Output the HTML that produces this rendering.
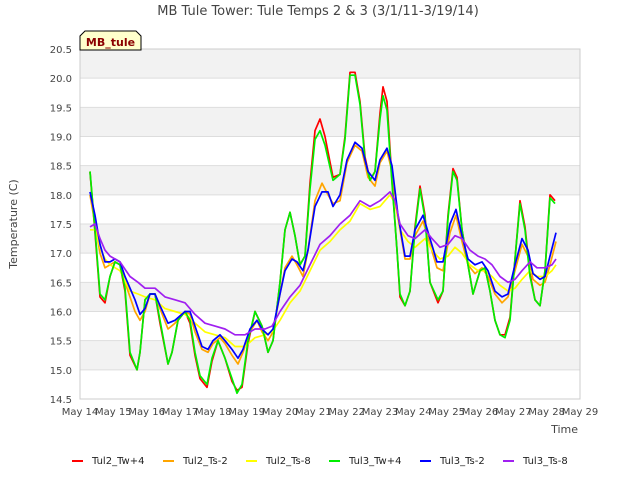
<!DOCTYPE html>
<html><head><meta charset="utf-8"><style>
body{margin:0;background:#fff;font-family:"DejaVu Sans","Liberation Sans",sans-serif}
svg text{font-family:"DejaVu Sans","Liberation Sans",sans-serif}
</style></head><body>
<svg id="chart" width="640" height="480" xmlns="http://www.w3.org/2000/svg">
<text x="318" y="15" text-anchor="middle" font-size="13" fill="#444">MB Tule Tower: Tule Temps 2 &amp; 3 (3/1/11-3/19/14)</text>
<g id="bands"></g><g id="grid"></g>
<rect x="80" y="49" width="500" height="350" fill="none" stroke="#ccc"/>
<g id="series"></g><g id="ticks"></g>
<text transform="translate(17,224) rotate(-90)" text-anchor="middle" font-size="11" fill="#444">Temperature (C)</text>
<text x="578" y="433" text-anchor="end" font-size="11" fill="#444">Time</text>
<g>
<path d="M80,50 L80,36 L85,31 L136,31 L141,36 L141,50 Z" fill="#ffffcc" stroke="#000" stroke-width="1"/>
<text x="110.5" y="46" text-anchor="middle" font-size="11" font-weight="bold" fill="#8b0000">MB_tule</text></g>
<g id="legend"></g>
</svg>
<script>
const yTicks=[14.5,15.0,15.5,16.0,16.5,17.0,17.5,18.0,18.5,19.0,19.5,20.0,20.5];
const xTickDays=[14,15,16,17,18,19,20,21,22,23,24,25,26,27,28,29];
const xTickLabels=xTickDays.map(d=>"May "+d);
const seriesNames=["Tul2_Tw+4","Tul2_Ts-2","Tul2_Ts-8","Tul3_Tw+4","Tul3_Ts-2","Tul3_Ts-8"];
const seriesColors=["#ff0000","#ffa500","#ffff00","#00ee00","#0000ff","#a020f0"];
const tW=[14.30,14.45,14.60,14.75,14.90,15.05,15.20,15.35,15.50,15.71,15.80,15.95,16.10,16.25,16.40,16.64,16.76,16.94,17.15,17.30,17.45,17.60,17.81,17.96,18.14,18.35,18.56,18.71,18.86,19.04,19.25,19.46,19.64,19.79,20.00,20.15,20.30,20.45,20.60,20.75,20.90,21.05,21.20,21.35,21.59,21.80,21.95,22.10,22.25,22.40,22.55,22.70,22.85,23.00,23.09,23.21,23.36,23.51,23.60,23.75,23.90,24.05,24.20,24.35,24.50,24.74,24.89,25.04,25.19,25.31,25.46,25.64,25.79,26.00,26.15,26.30,26.45,26.60,26.75,26.90,27.05,27.20,27.35,27.50,27.65,27.80,27.95,28.10,28.25];
const vGreen=[18.4,17.4,16.3,16.2,16.6,16.85,16.8,16.4,15.3,15.0,15.3,16.2,16.3,16.3,15.85,15.1,15.3,15.85,16.0,15.85,15.3,14.9,14.75,15.2,15.5,15.2,14.85,14.6,14.75,15.5,16.0,15.75,15.3,15.5,16.5,17.4,17.7,17.3,16.8,16.95,18.1,18.95,19.1,18.85,18.25,18.35,18.95,20.05,20.05,19.55,18.6,18.25,18.4,19.3,19.7,19.45,18.2,17.05,16.3,16.1,16.35,17.4,18.1,17.6,16.5,16.2,16.35,17.6,18.4,18.25,17.4,16.8,16.3,16.7,16.75,16.35,15.85,15.6,15.55,15.85,16.9,17.85,17.4,16.6,16.2,16.1,16.7,17.95,17.85];
const vRed=[18.4,17.35,16.25,16.15,16.6,16.85,16.8,16.35,15.25,15.0,15.3,16.2,16.3,16.3,15.8,15.1,15.3,15.85,16.0,15.8,15.25,14.85,14.7,15.15,15.5,15.2,14.8,14.65,14.7,15.45,16.0,15.75,15.3,15.5,16.5,17.4,17.7,17.3,16.8,16.95,18.2,19.1,19.3,19.0,18.3,18.35,19.0,20.1,20.1,19.6,18.65,18.25,18.4,19.4,19.85,19.6,18.25,17.05,16.25,16.1,16.35,17.45,18.15,17.65,16.5,16.15,16.35,17.65,18.45,18.3,17.4,16.8,16.3,16.7,16.75,16.35,15.85,15.6,15.6,15.9,16.9,17.9,17.45,16.65,16.2,16.1,16.7,18.0,17.9];
const tB=[14.30,14.45,14.60,14.75,14.90,15.05,15.20,15.35,15.65,15.80,15.95,16.10,16.25,16.40,16.64,16.85,17.15,17.30,17.45,17.66,17.84,17.99,18.20,18.35,18.56,18.74,18.89,19.10,19.31,19.46,19.64,19.79,20.00,20.15,20.36,20.51,20.69,20.84,21.05,21.26,21.44,21.59,21.80,22.01,22.25,22.46,22.64,22.85,23.00,23.21,23.36,23.54,23.75,23.90,24.05,24.29,24.50,24.71,24.89,25.10,25.28,25.46,25.64,25.85,26.06,26.24,26.45,26.66,26.84,27.05,27.26,27.44,27.59,27.80,27.95,28.10,28.28];
const vBlue=[18.05,17.65,17.15,16.85,16.85,16.9,16.85,16.6,16.2,15.95,16.05,16.3,16.3,16.1,15.8,15.85,16.0,16.0,15.75,15.4,15.35,15.5,15.6,15.5,15.35,15.2,15.35,15.7,15.85,15.7,15.6,15.7,16.3,16.7,16.9,16.85,16.7,17.05,17.8,18.05,18.05,17.8,18.0,18.6,18.9,18.8,18.4,18.25,18.6,18.8,18.5,17.65,16.95,16.95,17.4,17.65,17.25,16.85,16.85,17.5,17.75,17.3,16.9,16.8,16.85,16.7,16.35,16.25,16.3,16.8,17.25,17.05,16.65,16.55,16.6,16.95,17.35];
const vOrange=[18.0,17.5,17.0,16.75,16.8,16.85,16.8,16.5,16.0,15.85,16.0,16.3,16.3,16.05,15.7,15.8,16.0,15.95,15.65,15.35,15.3,15.45,15.55,15.45,15.25,15.1,15.3,15.65,15.85,15.65,15.5,15.65,16.3,16.75,16.95,16.8,16.6,17.05,17.9,18.2,18.0,17.85,17.9,18.55,18.85,18.75,18.3,18.15,18.55,18.75,18.4,17.6,16.9,16.9,17.3,17.55,17.15,16.75,16.7,17.35,17.65,17.2,16.8,16.65,16.75,16.6,16.3,16.15,16.25,16.7,17.15,16.95,16.55,16.45,16.5,16.8,17.2];
const tP=[14.30,14.45,14.60,14.75,14.90,15.20,15.50,15.74,15.95,16.25,16.55,16.85,17.15,17.45,17.75,18.05,18.35,18.65,18.95,19.25,19.55,19.76,20.00,20.30,20.60,20.90,21.20,21.50,21.80,22.10,22.40,22.70,23.00,23.30,23.45,23.60,23.84,24.05,24.35,24.56,24.80,25.04,25.25,25.46,25.70,25.94,26.15,26.36,26.60,26.84,27.05,27.26,27.50,27.71,27.95,28.16,28.28];
const vPurple=[17.45,17.5,17.25,17.05,16.95,16.85,16.6,16.5,16.4,16.4,16.25,16.2,16.15,15.95,15.8,15.75,15.7,15.6,15.6,15.7,15.7,15.75,16.0,16.25,16.45,16.8,17.15,17.3,17.5,17.65,17.9,17.8,17.9,18.05,17.9,17.5,17.3,17.25,17.4,17.25,17.1,17.15,17.3,17.25,17.05,16.95,16.9,16.8,16.6,16.5,16.55,16.7,16.85,16.75,16.75,16.8,16.9];
const vYellow=[17.4,17.4,17.1,16.9,16.8,16.7,16.35,16.3,16.25,16.2,16.05,16.0,15.95,15.8,15.65,15.6,15.55,15.4,15.4,15.55,15.6,15.65,15.85,16.15,16.35,16.7,17.05,17.2,17.4,17.55,17.85,17.75,17.8,18.0,17.85,17.4,17.2,17.1,17.25,17.05,16.9,16.95,17.1,17.0,16.8,16.7,16.7,16.6,16.45,16.35,16.4,16.55,16.7,16.6,16.6,16.7,16.8];
const NS="http://www.w3.org/2000/svg";
const X0=80,X1=580,Y0=399,Y1=49,DMIN=14,DMAX=29,VMIN=14.5,VMAX=20.5;
const xs=d=>X0+(d-DMIN)/(DMAX-DMIN)*(X1-X0);
const ys=v=>Y0-(v-VMIN)/(VMAX-VMIN)*(Y0-Y1);
function mk(tag,attrs,parent){const e=document.createElementNS(NS,tag);for(const k in attrs)e.setAttribute(k,attrs[k]);parent.appendChild(e);return e;}
const bands=document.getElementById('bands'),grid=document.getElementById('grid'),ticks=document.getElementById('ticks');
for(let i=0;i<yTicks.length-1;i++){
  if(i%2===1){const b=mk('rect',{x:X0,y:ys(yTicks[i+1]),width:X1-X0,height:ys(yTicks[i])-ys(yTicks[i+1]),fill:'#f2f2f2'},bands);
  
  }
}
yTicks.forEach(v=>{
  const l=mk('line',{x1:X0,x2:X1,y1:ys(v),y2:ys(v),stroke:'#ddd'},grid);
  
  
  const t=mk('text',{x:X0-8,y:ys(v)+4,'text-anchor':'end','font-size':'10',fill:'#444'},ticks);
  t.textContent=v.toFixed(1);
  
  
});
xTickDays.forEach((d,i)=>{
  const t=mk('text',{x:xs(d),y:415,'text-anchor':'middle','font-size':'10',fill:'#444'},ticks);
  t.textContent=xTickLabels[i];
  
  
});
const ser=document.getElementById('series');
const data=[[tW,vRed],[tB,vOrange],[tP,vYellow],[tW,vGreen],[tB,vBlue],[tP,vPurple]];
data.forEach((s,i)=>{
  const pts=s[0].map((d,j)=>xs(d).toFixed(1)+','+ys(s[1][j]).toFixed(1)).join(' ');
  const p=mk('polyline',{points:pts,fill:'none',stroke:seriesColors[i],'stroke-width':'1.7','stroke-linejoin':'round'},ser);
  
  
});
const lg=document.getElementById('legend');
const lx=[72,163,246,329,420,503];
seriesNames.forEach((n,i)=>{
  const g=mk('g',{},lg);
  
  
  mk('line',{x1:lx[i],x2:lx[i]+11,y1:461,y2:461,stroke:seriesColors[i],'stroke-width':'2'},g);
  const t=mk('text',{x:lx[i]+20,y:464,'font-size':'10',fill:'#222'},g);
  t.textContent=n;
});
</script>
</body></html>
